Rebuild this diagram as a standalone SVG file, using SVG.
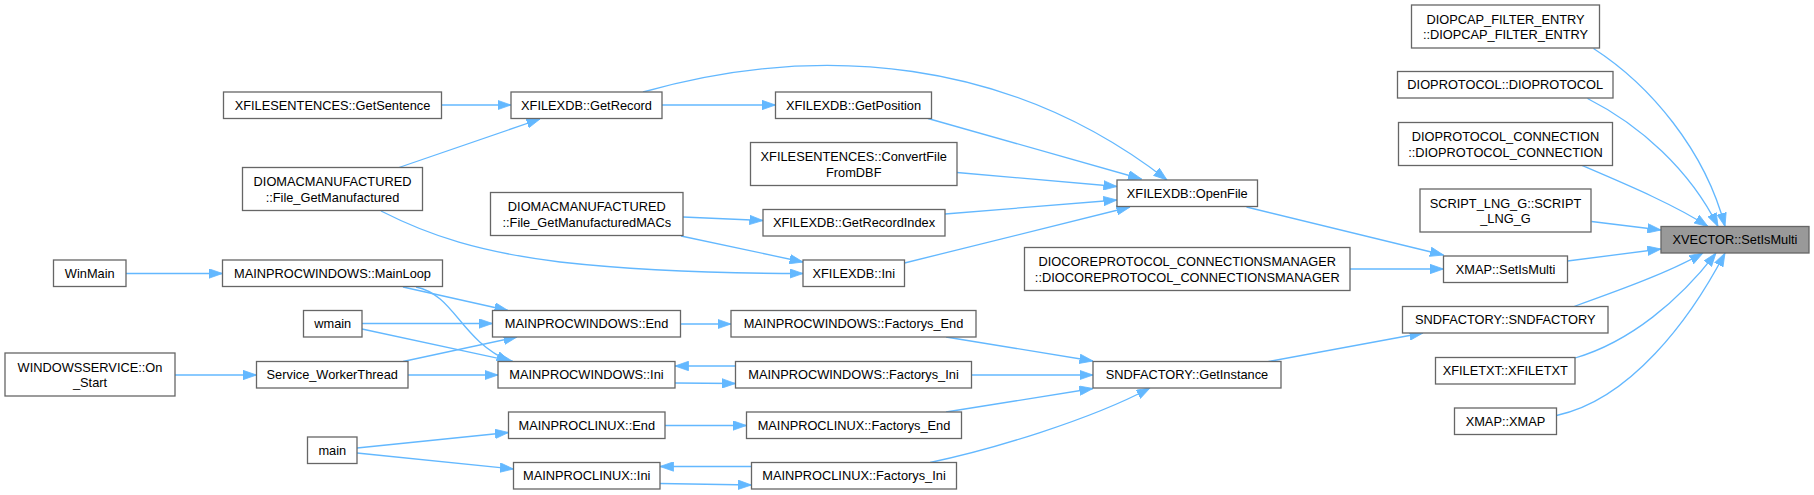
<svg xmlns="http://www.w3.org/2000/svg" width="1814" height="495" viewBox="0 0 1814 495">
<style>
.node rect{fill:#ffffff;stroke:#666666;stroke-width:1.3}
.node.hl rect{fill:#999999}
.node text{font-family:"Liberation Sans",Arial,Helvetica,sans-serif;font-size:12.8px;text-anchor:middle;fill:#000000}
.edge{fill:none;stroke:#63b8ff;stroke-width:1.3;marker-end:url(#arr)}
</style>
<defs>
<marker id="arr" markerUnits="userSpaceOnUse" viewBox="0 0 14 10" refX="13.5" refY="5" markerWidth="14" markerHeight="10" orient="auto">
<path d="M0,0.3 L13.5,5 L0,9.7 z" fill="#63b8ff" stroke="#63b8ff" stroke-width="0.8"/>
</marker>
</defs>
<rect x="0" y="0" width="1814" height="495" fill="#ffffff"/>
<g id="edges">
<path class="edge" d="M441.5,105 L511,105"/>
<path class="edge" d="M399,167.5 L540,119"/>
<path class="edge" d="M381,211 C430,236 480,252 560,262 C650,272 740,273.5 803,273.5"/>
<path class="edge" d="M683,217 L763,220.5"/>
<path class="edge" d="M681,236 L803,262"/>
<path class="edge" d="M662,105 L775.5,105"/>
<path class="edge" d="M643,92 C820,42 1010,58 1167,180"/>
<path class="edge" d="M928,118.5 L1141.5,179"/>
<path class="edge" d="M957,172.5 L1117,186.5"/>
<path class="edge" d="M945,214 L1117,200"/>
<path class="edge" d="M904.5,263 L1130,207"/>
<path class="edge" d="M1246.5,207 L1443.5,255"/>
<path class="edge" d="M1350,269 L1443.5,269"/>
<path class="edge" d="M1567.5,261 L1661,249"/>
<path class="edge" d="M1593.5,48.5 C1650,85 1705,150 1725,226.5"/>
<path class="edge" d="M1587.5,98.5 C1640,125 1690,170 1718,226.5"/>
<path class="edge" d="M1582,165.5 C1630,186 1675,205 1708,226.5"/>
<path class="edge" d="M1591.5,221.5 L1661,230"/>
<path class="edge" d="M1574,306.5 C1620,290 1670,272 1703,253"/>
<path class="edge" d="M1575,358 C1630,342 1680,300 1716,253"/>
<path class="edge" d="M1556.5,415.5 C1630,400 1690,320 1725,253"/>
<path class="edge" d="M1268.5,361.5 L1423,333"/>
<path class="edge" d="M946,337 L1093,361"/>
<path class="edge" d="M971.5,375 L1093,375"/>
<path class="edge" d="M946,412 L1093,388.5"/>
<path class="edge" d="M930,462.5 C990,450 1090,420 1150,388"/>
<path class="edge" d="M680.5,324 L731,324"/>
<path class="edge" d="M735.5,366 L675,366"/>
<path class="edge" d="M675,383 L735.5,383.5"/>
<path class="edge" d="M665,425.5 L746.5,425.5"/>
<path class="edge" d="M751.5,466.5 L660,466.5"/>
<path class="edge" d="M660,483.5 L751.5,485"/>
<path class="edge" d="M126,273.5 L222.5,273.5"/>
<path class="edge" d="M403,287 L508,310.5"/>
<path class="edge" d="M416,287 C455,295 460,340 510,361.5"/>
<path class="edge" d="M362,323.5 L492.5,323.5"/>
<path class="edge" d="M362,329 L513,361.5"/>
<path class="edge" d="M403,361.5 L517,337"/>
<path class="edge" d="M408,375 L498,375"/>
<path class="edge" d="M175,375 L256.5,375"/>
<path class="edge" d="M357,448 L508.5,432.5"/>
<path class="edge" d="M357,453 L513.5,469"/>
</g>
<g id="n_xvector" class="node hl"><rect x="1661" y="226.5" width="148" height="26.5"/><text x="1735" y="244.2">XVECTOR::SetIsMulti</text></g>
<g id="n_diopcap" class="node"><rect x="1411.5" y="5" width="188" height="43"/><text x="1505.5" y="23.8">DIOPCAP_FILTER_ENTRY</text><text x="1505.5" y="39.4">::DIOPCAP_FILTER_ENTRY</text></g>
<g id="n_dioprotocol" class="node"><rect x="1397.5" y="71.5" width="215.5" height="26.5"/><text x="1505.25" y="89.25">DIOPROTOCOL::DIOPROTOCOL</text></g>
<g id="n_dioprotocol_conn" class="node"><rect x="1398.5" y="122.5" width="214" height="43"/><text x="1505.5" y="141.3">DIOPROTOCOL_CONNECTION</text><text x="1505.5" y="156.9">::DIOPROTOCOL_CONNECTION</text></g>
<g id="n_script" class="node"><rect x="1420" y="189" width="171" height="43"/><text x="1505.5" y="207.8">SCRIPT_LNG_G::SCRIPT</text><text x="1505.5" y="223.4">_LNG_G</text></g>
<g id="n_xmap_setismulti" class="node"><rect x="1443.5" y="256" width="124" height="26.5"/><text x="1505.5" y="273.75">XMAP::SetIsMulti</text></g>
<g id="n_sndfactory" class="node"><rect x="1402.5" y="306.5" width="205.5" height="26.5"/><text x="1505.25" y="324.25">SNDFACTORY::SNDFACTORY</text></g>
<g id="n_xfiletxt" class="node"><rect x="1435.5" y="357.5" width="139.5" height="26.5"/><text x="1505.25" y="375.25">XFILETXT::XFILETXT</text></g>
<g id="n_xmap_xmap" class="node"><rect x="1454.5" y="408" width="102" height="26.5"/><text x="1505.5" y="425.75">XMAP::XMAP</text></g>
<g id="n_openfile" class="node"><rect x="1117" y="180" width="140.5" height="26.5"/><text x="1187.25" y="197.75">XFILEXDB::OpenFile</text></g>
<g id="n_diocore" class="node"><rect x="1024.5" y="247.5" width="325.5" height="43"/><text x="1187.25" y="266.3">DIOCOREPROTOCOL_CONNECTIONSMANAGER</text><text x="1187.25" y="281.9">::DIOCOREPROTOCOL_CONNECTIONSMANAGER</text></g>
<g id="n_getinstance" class="node"><rect x="1093" y="361.5" width="188" height="26.5"/><text x="1187" y="379.25">SNDFACTORY::GetInstance</text></g>
<g id="n_getposition" class="node"><rect x="775.5" y="92" width="156" height="26.5"/><text x="853.5" y="109.75">XFILEXDB::GetPosition</text></g>
<g id="n_convertfile" class="node"><rect x="750.5" y="142.5" width="206.5" height="43"/><text x="853.75" y="161.3">XFILESENTENCES::ConvertFile</text><text x="853.75" y="176.9">FromDBF</text></g>
<g id="n_getrecordindex" class="node"><rect x="763" y="209.5" width="182" height="26.5"/><text x="854" y="227.25">XFILEXDB::GetRecordIndex</text></g>
<g id="n_xfilexdb_ini" class="node"><rect x="803" y="260" width="101.5" height="26.5"/><text x="853.75" y="277.75">XFILEXDB::Ini</text></g>
<g id="n_win_factorys_end" class="node"><rect x="731" y="310.5" width="245" height="26.5"/><text x="853.5" y="328.25">MAINPROCWINDOWS::Factorys_End</text></g>
<g id="n_win_factorys_ini" class="node"><rect x="735.5" y="361.5" width="236" height="26.5"/><text x="853.5" y="379.25">MAINPROCWINDOWS::Factorys_Ini</text></g>
<g id="n_lin_factorys_end" class="node"><rect x="746.5" y="412" width="215" height="26.5"/><text x="854" y="429.75">MAINPROCLINUX::Factorys_End</text></g>
<g id="n_lin_factorys_ini" class="node"><rect x="751.5" y="462.5" width="205" height="26.5"/><text x="854" y="480.25">MAINPROCLINUX::Factorys_Ini</text></g>
<g id="n_getrecord" class="node"><rect x="511" y="92" width="151" height="26.5"/><text x="586.5" y="109.75">XFILEXDB::GetRecord</text></g>
<g id="n_macs" class="node"><rect x="490.5" y="192.5" width="192.5" height="43"/><text x="586.75" y="211.3">DIOMACMANUFACTURED</text><text x="586.75" y="226.9">::File_GetManufacturedMACs</text></g>
<g id="n_win_end" class="node"><rect x="492.5" y="310.5" width="188" height="26.5"/><text x="586.5" y="328.25">MAINPROCWINDOWS::End</text></g>
<g id="n_win_ini" class="node"><rect x="498" y="361.5" width="177" height="26.5"/><text x="586.5" y="379.25">MAINPROCWINDOWS::Ini</text></g>
<g id="n_lin_end" class="node"><rect x="508.5" y="412" width="156.5" height="26.5"/><text x="586.75" y="429.75">MAINPROCLINUX::End</text></g>
<g id="n_lin_ini" class="node"><rect x="513.5" y="462.5" width="146.5" height="26.5"/><text x="586.75" y="480.25">MAINPROCLINUX::Ini</text></g>
<g id="n_getsentence" class="node"><rect x="223.5" y="92" width="218" height="26.5"/><text x="332.5" y="109.75">XFILESENTENCES::GetSentence</text></g>
<g id="n_getmanufactured" class="node"><rect x="242.5" y="167.5" width="180" height="43"/><text x="332.5" y="186.3">DIOMACMANUFACTURED</text><text x="332.5" y="201.9">::File_GetManufactured</text></g>
<g id="n_mainloop" class="node"><rect x="222.5" y="260" width="220" height="26.5"/><text x="332.5" y="277.75">MAINPROCWINDOWS::MainLoop</text></g>
<g id="n_wmain" class="node"><rect x="303.5" y="310.5" width="58.5" height="26.5"/><text x="332.75" y="328.25">wmain</text></g>
<g id="n_service" class="node"><rect x="256.5" y="361.5" width="151.5" height="26.5"/><text x="332.25" y="379.25">Service_WorkerThread</text></g>
<g id="n_main" class="node"><rect x="307.5" y="437" width="49.5" height="26.5"/><text x="332.25" y="454.75">main</text></g>
<g id="n_winmain" class="node"><rect x="53.5" y="260" width="72.5" height="26.5"/><text x="89.75" y="277.75">WinMain</text></g>
<g id="n_onstart" class="node"><rect x="5" y="353" width="170" height="43"/><text x="90" y="371.8">WINDOWSSERVICE::On</text><text x="90" y="387.4">_Start</text></g>
</svg>
